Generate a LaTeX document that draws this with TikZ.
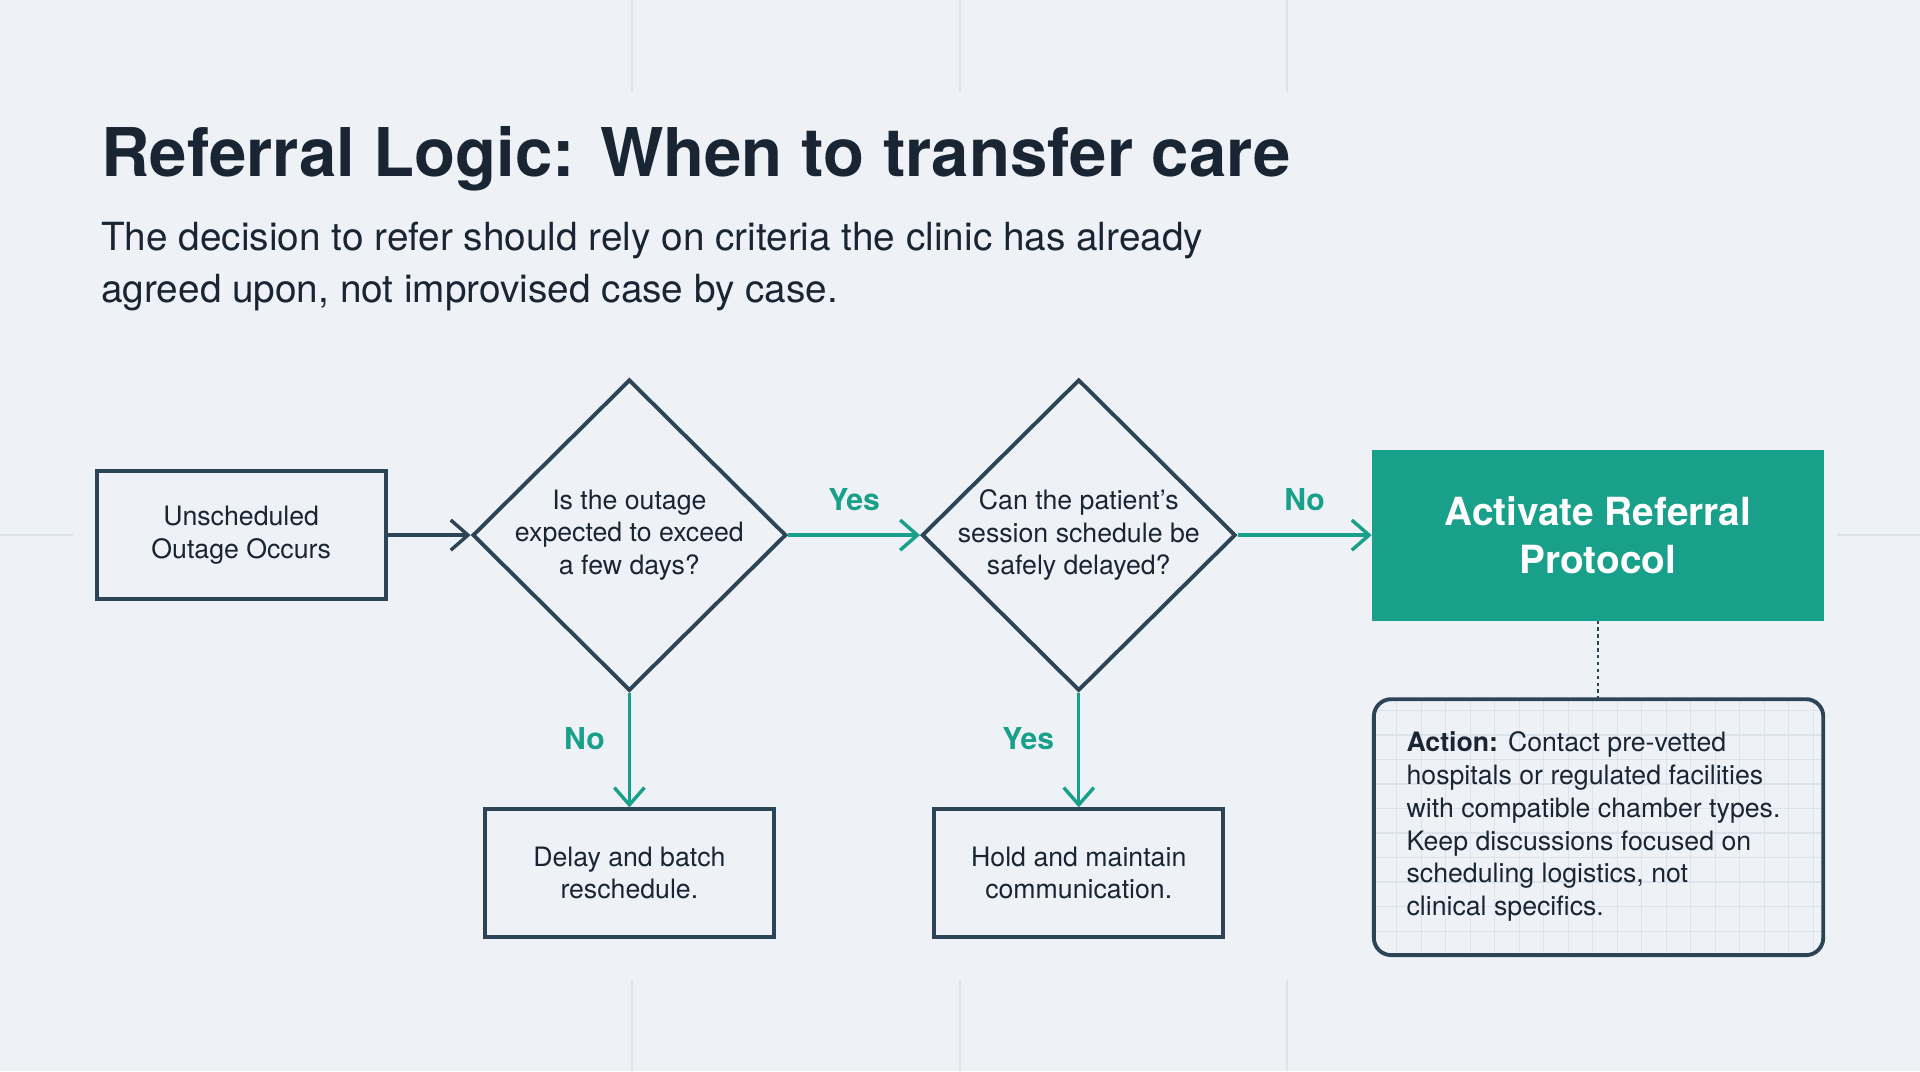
\documentclass[tikz,border=0pt]{standalone}
\usepackage{fontspec}
\setmainfont{TeX Gyre Heros}
\usetikzlibrary{shapes.geometric,arrows.meta}
\definecolor{bgc}{HTML}{EEF2F7}
\definecolor{ink}{HTML}{2D4356}
\definecolor{txt}{HTML}{1A2533}
\definecolor{teal}{HTML}{19A08A}
\definecolor{faint}{HTML}{DDE3EA}
\tikzset{
  box/.style={draw=ink, line width=0.9pt, fill=bgc, minimum width=2.36cm, minimum height=1.04cm, align=center, text=txt, font=\fontsize{6.2}{7.6}\selectfont},
  dec/.style={draw=ink, line width=0.9pt, diamond, fill=bgc, minimum width=2.56cm, minimum height=2.54cm, align=center, text=txt, inner sep=-8pt, font=\fontsize{6.2}{7.6}\selectfont},
  flow/.style={draw=teal, line width=0.8pt, -{Straight Barb[length=4pt,width=7pt]}},
  lbl/.style={text=teal, font=\bfseries\fontsize{7}{8}\selectfont}
}
\begin{document}
\begin{tikzpicture}[x=0.01cm, y=-0.01cm]
  \fill[bgc] (0,0) rectangle (1568,875);
  \useasboundingbox (0,0) rectangle (1568,875);
  % faint backdrop lines
  \foreach \x in {516,784,1051}{
    \draw[faint, line width=0.5pt] (\x,0) -- (\x,75);
    \draw[faint, line width=0.5pt] (\x,800) -- (\x,875);
  }
  \draw[faint, line width=0.5pt] (0,437) -- (60,437);
  \draw[faint, line width=0.5pt] (1500,437) -- (1568,437);
  % heading
  \node[anchor=base west, text=txt, font=\bfseries\fontsize{15.6}{18}\selectfont, inner sep=0pt] (title) at (82,144) {Referral Logic: When to transfer care};
  \node[anchor=north west, text=txt, align=left, font=\fontsize{9}{11.9}\selectfont, inner sep=0pt] (sub) at (82,181)
    {The decision to refer should rely on criteria the clinic has already\\agreed upon, not improvised case by case.};
  % flow
  \node[box] (start) at (197,437) {Unscheduled\\Outage Occurs};
  \node[dec] (q1) at (514,437) {Is the outage\\expected to exceed\\a few days?};
  \node[dec] (q2) at (881,437) {Can the patient's\\session schedule be\\safely delayed?};
  \node[draw=teal, fill=teal, minimum width=3.68cm, minimum height=1.38cm, align=center, text=white, font=\bfseries\fontsize{9}{11.3}\selectfont] (refer) at (1305,437) {Activate Referral\\Protocol};
  \node[box] (delay) at (514,713) {Delay and batch\\reschedule.};
  \node[box] (hold) at (881,713) {Hold and maintain\\communication.};
  % action note
  \begin{scope}
    \clip[rounded corners=4pt] (1122,571) rectangle (1489,780);
    \fill[bgc] (1122,571) rectangle (1489,780);
    \draw[faint, line width=0.3pt, step=0.2cm] (1122,571) grid (1489,780);
  \end{scope}
  \draw[ink, line width=0.9pt, rounded corners=4pt] (1122,571) rectangle (1489,780);
  \coordinate (notetop) at (1305,571);
  \node[anchor=north west, align=left, text=txt, inner sep=0pt, font=\fontsize{6.2}{7.6}\selectfont] (action) at (1148,597)
    {\textbf{Action:} Contact pre-vetted\\hospitals or regulated facilities\\with compatible chamber types.\\Keep discussions focused on\\scheduling logistics, not\\clinical specifics.};
  % connectors
  \draw[draw=ink, line width=0.8pt, -{Straight Barb[length=4pt,width=7pt]}] (start) -- (q1);
  \draw[flow] (q1) -- node[lbl, above=2pt] (y1) {Yes} (q2);
  \draw[flow] (q2) -- node[lbl, above=2pt] (n2) {No} (refer);
  \draw[flow] (q1) -- node[lbl, left=2pt, pos=0.4] (n1) {No} (delay);
  \draw[flow] (q2) -- node[lbl, left=2pt, pos=0.4] (y2) {Yes} (hold);
  \draw[ink, line width=0.6pt, dash pattern=on 0.8pt off 0.8pt] (refer) -- (notetop);
\end{tikzpicture}
\end{document}
